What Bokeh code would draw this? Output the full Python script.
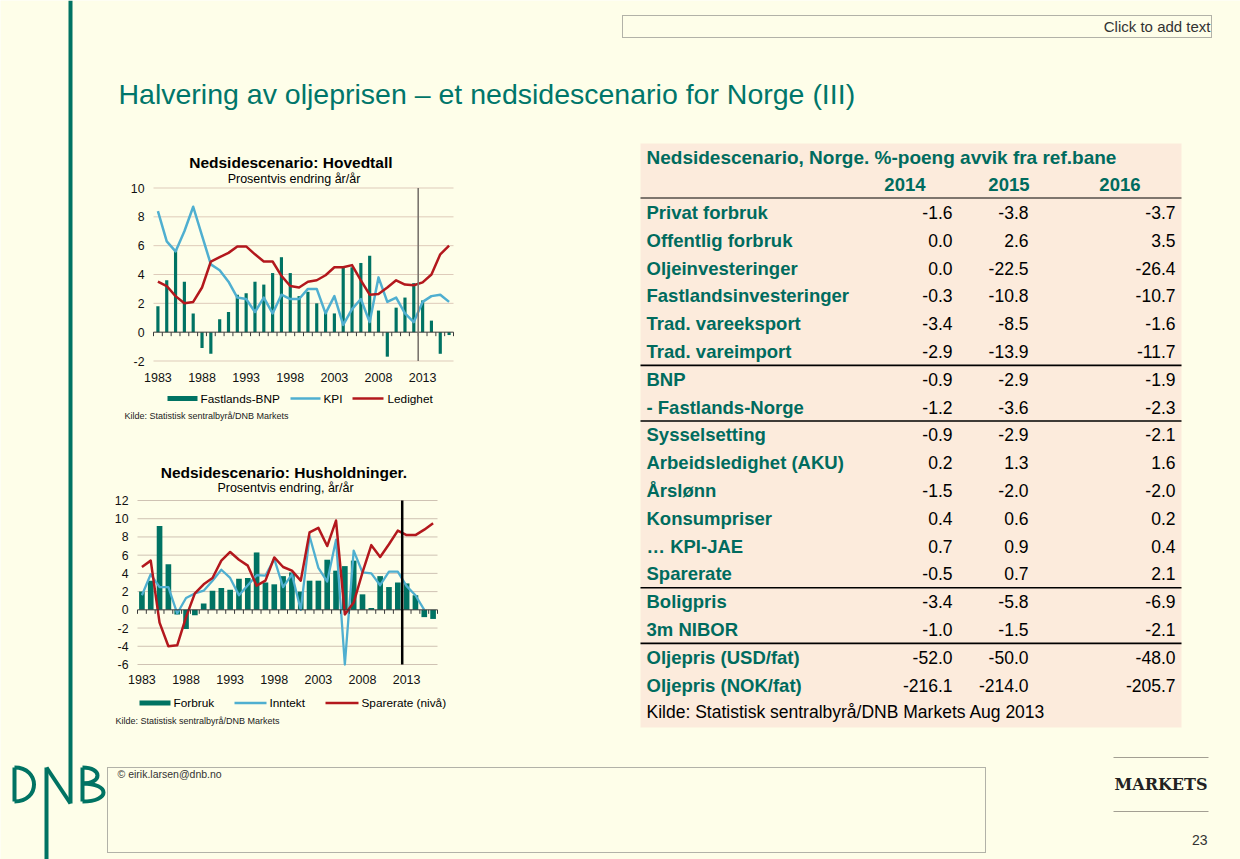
from bokeh.plotting import figure
from bokeh.models import Range1d
from bokeh.embed import file_html
from bokeh.resources import INLINE
from bokeh.core.properties import value

# ---------------- data ----------------
years = [1983, 1984, 1985, 1986, 1987, 1988, 1989, 1990, 1991, 1992, 1993, 1994,
         1995, 1996, 1997, 1998, 1999, 2000, 2001, 2002, 2003, 2004, 2005, 2006,
         2007, 2008, 2009, 2010, 2011, 2012, 2013, 2014, 2015, 2016]
x_tick_years = [1983, 1988, 1993, 1998, 2003, 2008, 2013]
x_tick_labels = ["1983", "1988", "1993", "1998", "2003", "2008", "2013"]

# Chart 1: Hovedtall
fastlands_bnp = [1.8, 3.6, 5.7, 3.5, 1.3, -1.1, -1.5, 0.9, 1.4, 2.6, 2.7, 3.5,
                 3.3, 4.1, 5.2, 4.1, 2.5, 2.8, 2.0, 1.4, 1.3, 4.5, 4.5, 4.8,
                 5.3, 1.5, -1.7, 1.7, 2.4, 3.4, 2.2, 0.8, -1.5, -0.2]
kpi = [8.4, 6.3, 5.6, 7.0, 8.7, 6.7, 4.7, 4.3, 3.5, 2.4, 2.3, 1.4,
       2.4, 1.3, 2.6, 2.3, 2.3, 3.0, 3.0, 1.3, 2.5, 0.5, 1.6, 2.3,
       0.7, 3.8, 2.1, 2.4, 1.3, 0.7, 2.1, 2.5, 2.6, 2.1]
ledighet = [3.5, 3.2, 2.5, 2.0, 2.1, 3.1, 4.9, 5.2, 5.5, 5.95, 5.95, 5.4,
            4.9, 4.9, 3.9, 3.2, 3.1, 3.5, 3.6, 3.95, 4.5, 4.5, 4.65, 3.6,
            2.6, 2.65, 3.1, 3.6, 3.3, 3.25, 3.45, 4.0, 5.4, 6.0]
top_y_ticks = [-2, 0, 2, 4, 6, 8, 10]
top_y_labels = ["-2", "0", "2", "4", "6", "8", "10"]

# Chart 2: Husholdninger
forbruk = [2.0, 3.2, 9.2, 5.0, -0.5, -2.1, -0.6, 0.7, 2.1, 2.4, 2.2, 3.4,
           3.5, 6.3, 3.0, 2.8, 3.7, 4.1, 2.0, 3.2, 3.2, 5.5, 4.3, 4.8,
           5.4, 1.7, 0.2, 3.7, 2.5, 3.0, 2.9, 1.6, -0.8, -1.0]
inntekt = [1.6, 3.9, 2.5, 2.5, -0.4, 1.3, 1.8, 2.1, 3.2, 4.4, 3.5, 1.6,
           2.7, 3.8, 3.75, 5.6, 2.5, 3.9, 0.0, 8.1, 4.6, 3.1, 7.7, -6.0,
           6.5, 4.1, 4.0, 2.7, 4.2, 4.2, 2.6, 1.6, 0.0, float("nan")]
sparerate = [4.7, 5.4, -1.4, -4.0, -3.9, -0.8, 1.8, 2.8, 3.5, 5.4, 6.35, 5.5,
             4.85, 2.65, 3.2, 5.75, 4.7, 4.3, 3.2, 8.5, 9.0, 7.0, 9.8, -0.5,
             0.8, 4.1, 7.1, 5.8, 7.2, 8.7, 8.2, 8.2, 8.8, 9.5]
bot_y_ticks = [-6, -4, -2, 0, 2, 4, 6, 8, 10, 12]
bot_y_labels = ["-6", "-4", "-2", "0", "2", "4", "6", "8", "10", "12"]

forecast_split = 2012.5

# Table
table_title = "Nedsidescenario, Norge. %-poeng avvik fra ref.bane"
table_years = ["2014", "2015", "2016"]
table_rows = ["Privat forbruk", "Offentlig forbruk", "Oljeinvesteringer",
              "Fastlandsinvesteringer", "Trad. vareeksport", "Trad. vareimport",
              "BNP", "- Fastlands-Norge", "Sysselsetting", "Arbeidsledighet (AKU)",
              "Årslønn", "Konsumpriser", "… KPI-JAE", "Sparerate", "Boligpris",
              "3m NIBOR", "Oljepris (USD/fat)", "Oljepris (NOK/fat)"]
val_2014 = [-1.6, 0.0, 0.0, -0.3, -3.4, -2.9, -0.9, -1.2, -0.9, 0.2, -1.5, 0.4,
            0.7, -0.5, -3.4, -1.0, -52.0, -216.1]
val_2015 = [-3.8, 2.6, -22.5, -10.8, -8.5, -13.9, -2.9, -3.6, -2.9, 1.3, -2.0, 0.6,
            0.9, 0.7, -5.8, -1.5, -50.0, -214.0]
val_2016 = [-3.7, 3.5, -26.4, -10.7, -1.6, -11.7, -1.9, -2.3, -2.1, 1.6, -2.0, 0.2,
            0.4, 2.1, -6.9, -2.1, -48.0, -205.7]
group_breaks_after = [5, 7, 13, 15]
table_source = "Kilde: Statistisk sentralbyrå/DNB Markets Aug 2013"

# ---------------- styles ----------------
BG = "#FEFEE9"
TEAL = "#007363"
TEAL_TXT = "#006B5E"
BLUE = "#4FAFD0"
RED = "#B3181D"
GRID_T = "#DECBBA"
GRID_B = "#CFC2B3"
TABLE_BG = "#FCEBDC"
FONT = "Liberation Sans"

p = figure(width=1240, height=859, x_range=Range1d(0, 1240), y_range=Range1d(859, 0),
           output_backend="svg", toolbar_location=None, min_border=0,
           x_axis_type=None, y_axis_type=None)
p.grid.visible = False
p.outline_line_color = None
p.background_fill_color = BG
p.border_fill_color = BG


def txt(tgt, x, y, s, size, color="#000000", bold=False, align="left",
        baseline="middle", font=FONT, **kw):
    tgt.text(x=x if isinstance(x, list) else [x],
             y=y if isinstance(y, list) else [y],
             text=s if isinstance(s, list) else [s],
             text_font=value(font), text_font_size=f"{size}px",
             text_color=color, text_font_style="bold" if bold else "normal",
             text_align=align, text_baseline=baseline, **kw)


# ---------------- slide furniture ----------------
# DNB logo with the long N stem
p.line([70, 70], [0, 803], line_color=TEAL, line_width=4)
p.line([70, 46], [803, 767], line_color=TEAL, line_width=4)
p.line([46, 46], [767, 860], line_color=TEAL, line_width=4)
p.line([14, 14], [767, 801], line_color=TEAL, line_width=4)
p.bezier(x0=[14], y0=[767], x1=[14], y1=[801], cx0=[40], cy0=[767], cx1=[40], cy1=[801],
         line_color=TEAL, line_width=4)
p.line([82, 82], [767, 801], line_color=TEAL, line_width=4)
p.bezier(x0=[82], y0=[767], x1=[82], y1=[783], cx0=[102], cy0=[767], cx1=[102], cy1=[783],
         line_color=TEAL, line_width=4)
p.bezier(x0=[82], y0=[783], x1=[82], y1=[801], cx0=[110], cy0=[783], cx1=[110], cy1=[801],
         line_color=TEAL, line_width=4)

# placeholder boxes
p.quad(left=[622], right=[1211], top=[15], bottom=[37], fill_color=None,
       line_color="#666666", line_dash="1 1", line_width=1)
txt(p, 1210, 25.5, "Click to add text", 15, color="#333333", align="right")
p.quad(left=[107], right=[985], top=[767], bottom=[852], fill_color=None,
       line_color="#666666", line_dash="1 1", line_width=1)
txt(p, 117, 773, "© eirik.larsen@dnb.no", 10.5, color="#333333")

# title
txt(p, 118, 93, "Halvering av oljeprisen – et nedsidescenario for Norge (III)", 28.5,
    color="#00766A")

# MARKETS
p.line([1113, 1208], [757, 757], line_color="#A39F93", line_width=1.2)
p.line([1113, 1208], [811, 811], line_color="#A39F93", line_width=1.2)
txt(p, 1160.5, 783.5, "MARKETS", 16, color="#222222", bold=True, align="center",
    font="DejaVu Serif")
txt(p, 1207, 839, "23", 14, color="#333333", align="right")


# ---------------- chart helper ----------------
def chart(x_px, y_px, y_rng, bars, bar_w, lines, grid_col, split_col, split_w, y_ticks, y_labels,
          lbl_off_px):
    x0, x1 = years[0] - 0.5, years[-1] + 0.5
    sub = p.subplot(x_source=Range1d(x0, x1), y_source=Range1d(*y_rng),
                    x_target=Range1d(*x_px), y_target=Range1d(*y_px))
    upp = (y_rng[1] - y_rng[0]) / abs(y_px[0] - y_px[1])  # data units per pixel
    gl = [t for t in y_ticks if t != 0]
    sub.segment(x0=[x0] * len(gl), x1=[x1] * len(gl), y0=gl, y1=gl,
                line_color=grid_col, line_width=1)
    sub.vbar(x=years, top=bars, bottom=0, width=bar_w, fill_color=TEAL, line_color=None)
    for ys, col, w in lines:
        sub.line(years, ys, line_color=col, line_width=w, line_join="round")
    sub.segment(x0=[x0], x1=[x1], y0=[0], y1=[0], line_color="#3A3A3A", line_width=1)
    bounds = [y - 0.5 for y in years] + [years[-1] + 0.5]
    sub.segment(x0=bounds, x1=bounds, y0=[0] * len(bounds), y1=[-4 * upp] * len(bounds),
                line_color="#3A3A3A", line_width=1)
    sub.segment(x0=[forecast_split], x1=[forecast_split], y0=[y_rng[0]], y1=[y_rng[1]],
                line_color=split_col, line_width=split_w)
    txt(sub, [x0] * len(y_ticks), y_ticks, y_labels, 12.3, color="#111111", align="right",
        x_offset=-9)
    txt(sub, x_tick_years, [y_rng[0] - lbl_off_px * upp] * len(x_tick_years), x_tick_labels,
        12.5, color="#111111", align="center")
    return sub


# Chart 1
txt(p, 292.5, 162, "Nedsidescenario:  Hovedtall", 15.5, bold=True, align="center")
txt(p, 293.5, 178, "Prosentvis endring år/år", 12.5, align="center")
chart((153, 453), (360.5, 187.5), (-2, 10), fastlands_bnp, 0.36,
      [(kpi, BLUE, 2.5), (ledighet, RED, 2.5)], GRID_T, "#7A756E", 1.6,
      top_y_ticks, top_y_labels, 16)
p.line([167, 197], [398, 398], line_color=TEAL, line_width=5)
txt(p, 200, 398, "Fastlands-BNP", 11.8)
p.line([290, 320], [398, 398], line_color=BLUE, line_width=2.5)
txt(p, 323, 398, "KPI", 11.8)
p.line([352, 383], [398, 398], line_color=RED, line_width=2.5)
txt(p, 387, 398, "Ledighet", 11.8)
txt(p, 124, 415, "Kilde: Statistisk sentralbyrå/DNB  Markets", 9, color="#222222")

# Chart 2
txt(p, 285.5, 472, "Nedsidescenario:  Husholdninger.", 15.5, bold=True, align="center")
txt(p, 285, 487, "Prosentvis endring, år/år", 12.5, align="center")
chart((137, 437), (664, 500), (-6, 12), forbruk, 0.64,
      [(inntekt, BLUE, 2.3), (sparerate, RED, 2.5)], GRID_B, "#000000", 2.5,
      bot_y_ticks, bot_y_labels, 15)
p.line([139, 170], [702.5, 702.5], line_color=TEAL, line_width=5)
txt(p, 173, 702.5, "Forbruk", 11.8)
p.line([234, 266], [702.5, 702.5], line_color=BLUE, line_width=2.5)
txt(p, 269, 702.5, "Inntekt", 11.8)
p.line([325, 358], [702.5, 702.5], line_color=RED, line_width=2.5)
txt(p, 361, 702.5, "Sparerate (nivå)", 11.8)
txt(p, 115, 720, "Kilde: Statistisk sentralbyrå/DNB  Markets", 9, color="#222222")

# ---------------- table ----------------
TL, TR, TT, TB = 640, 1181, 143, 727
p.quad(left=[TL], right=[TR], top=[TT], bottom=[TB], fill_color=TABLE_BG, line_color=None)
txt(p, 646, 156.5, table_title, 19, color=TEAL_TXT, bold=True)
hdr_right = [925, 1029, 1140]
txt(p, hdr_right, [184] * 3, table_years, 18.5, color=TEAL_TXT, bold=True, align="right")
p.line([TL, TR], [197.5, 197.5], line_color="#000000", line_width=1)
row0, step = 212.0, 27.8
row_y = [row0 + i * step for i in range(len(table_rows))]
txt(p, [646] * len(table_rows), row_y, table_rows, 18.5, color=TEAL_TXT, bold=True)
val_right = [952, 1028, 1175]
for xr, vals in zip(val_right, [val_2014, val_2015, val_2016]):
    txt(p, [xr] * len(vals), row_y, [f"{v:.1f}" for v in vals], 17.5, align="right")
for i in group_breaks_after:
    yb = row0 + (i + 0.5) * step
    p.line([TL, TR], [yb, yb], line_color="#000000", line_width=1.6)
txt(p, 646, row0 + len(table_rows) * step - 1, table_source, 17.5)

html = file_html(p, INLINE)
html = html.replace("<body>", '<body style="background-color:#FEFEE9;">', 1)
open("out.html", "w").write(html)
